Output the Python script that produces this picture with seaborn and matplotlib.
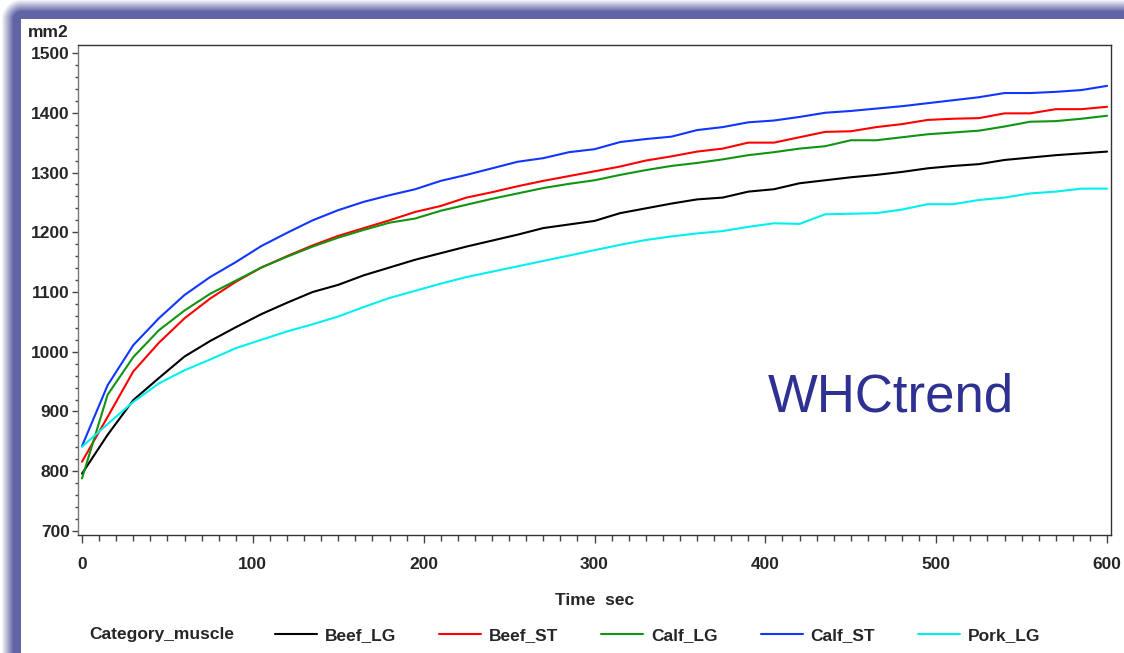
import numpy as np
import pandas as pd
import matplotlib
matplotlib.use('Agg')
import matplotlib.pyplot as plt
import matplotlib.ticker as mticker
from matplotlib.lines import Line2D
import seaborn as sns

# ── Data (every 15 sec) ─────────────────────────────────────
time_sec = list(range(0, 601, 15))

beef_lg = [796, 861, 919, 956, 992, 1018, 1041, 1063, 1082, 1100, 1112, 1128, 1141, 1154,
           1165, 1176, 1186, 1196, 1207, 1213, 1219, 1232, 1240, 1248, 1255, 1258, 1268,
           1272, 1282, 1287, 1292, 1296, 1301, 1307, 1311, 1314, 1321, 1325, 1329, 1332, 1335]
beef_st = [816, 891, 967, 1015, 1056, 1089, 1117, 1141, 1160, 1178, 1194, 1207, 1220, 1234,
           1244, 1258, 1267, 1277, 1286, 1294, 1302, 1310, 1320, 1327, 1335, 1340, 1350,
           1350, 1359, 1368, 1369, 1376, 1381, 1388, 1390, 1391, 1399, 1399, 1406, 1406, 1410]
calf_lg = [788, 928, 991, 1036, 1069, 1097, 1119, 1141, 1159, 1176, 1191, 1204, 1216, 1223,
           1236, 1246, 1256, 1265, 1274, 1281, 1287, 1296, 1304, 1311, 1316, 1322, 1329,
           1334, 1340, 1344, 1354, 1354, 1359, 1364, 1367, 1370, 1377, 1385, 1386, 1390, 1395]
calf_st = [842, 944, 1011, 1056, 1095, 1125, 1150, 1177, 1199, 1220, 1237, 1251, 1262, 1272,
           1286, 1296, 1307, 1318, 1324, 1334, 1339, 1351, 1356, 1360, 1371, 1376, 1384,
           1387, 1393, 1400, 1403, 1407, 1411, 1416, 1421, 1426, 1433, 1433, 1435, 1438, 1445]
pork_lg = [841, 879, 916, 947, 969, 987, 1006, 1020, 1034, 1046, 1059, 1075, 1090, 1102,
           1114, 1125, 1134, 1143, 1152, 1161, 1170, 1179, 1187, 1193, 1198, 1202, 1209,
           1215, 1214, 1230, 1231, 1232, 1238, 1247, 1247, 1254, 1258, 1265, 1268, 1273, 1273]

categories = ['Beef_LG', 'Beef_ST', 'Calf_LG', 'Calf_ST', 'Pork_LG']
colors = ['#000000', '#ff0000', '#119411', '#1036ff', '#00f0f0']

df = pd.DataFrame({
    'Time sec': time_sec * 5,
    'mm2': beef_lg + beef_st + calf_lg + calf_st + pork_lg,
    'Category_muscle': np.repeat(categories, len(time_sec)),
})

# ── Style ────────────────────────────────────────────────────
sns.set_style('white')
plt.rcParams['font.family'] = ['Liberation Sans', 'DejaVu Sans']
FS = 12.5

fig = plt.figure(figsize=(11.24, 6.53), dpi=100)

# purple frame with soft outer edge (top and left)
H, W = 653, 1124
yy, xx = np.mgrid[0:H, 0:W]
x0, y0 = 21, 19
dx = np.clip(x0 - xx, 0, None)
dy = np.clip(y0 - yy, 0, None)
d = np.where((dx > 0) & (dy > 0), np.hypot(dx, dy), np.maximum(dx, dy))
k = np.clip((20 - d) / 12, 0, 1)
k[(xx >= x0) & (yy >= y0)] = 0
purple = np.array([96, 100, 164]) / 255
img = np.ones((H, W, 3)) * (1 - k[..., None]) + purple * k[..., None]
bg = fig.add_axes([0, 0, 1, 1], zorder=-10)
bg.imshow(img, aspect='auto', interpolation='bilinear')
bg.axis('off')

ax = fig.add_axes([78 / 1124, 1 - 535 / 653, 1033 / 1124, 490 / 653])
ax.set_facecolor('white')

sns.lineplot(data=df, x='Time sec', y='mm2', hue='Category_muscle',
             palette=dict(zip(categories, colors)), linewidth=1.5, ax=ax, legend=False)

ax.set_xlim(-2.34, 602.3)
ax.set_ylim(693.3, 1513.4)
ax.xaxis.set_major_locator(mticker.MultipleLocator(100))
ax.xaxis.set_minor_locator(mticker.MultipleLocator(10))
ax.yaxis.set_major_locator(mticker.MultipleLocator(100))
ax.yaxis.set_minor_locator(mticker.MultipleLocator(20))
ax.tick_params(left=True, bottom=True, which='both', direction='out', width=1, color='#444444')
ax.tick_params(axis='y', which='major', length=4, pad=2, labelsize=FS)
ax.tick_params(axis='y', which='minor', length=2.5)
ax.tick_params(axis='x', which='major', length=6, pad=10, labelsize=FS)
ax.tick_params(axis='x', which='minor', length=4)
for lab in ax.get_xticklabels() + ax.get_yticklabels():
    lab.set_fontweight('bold')

for side in ['left', 'right', 'top', 'bottom']:
    ax.spines[side].set_color('#333333')
    ax.spines[side].set_linewidth(1)
ax.spines['left'].set_color('#777777')

ax.set_xlabel('Time  sec', fontsize=FS, fontweight='bold', labelpad=15)
ax.set_ylabel('')
fig.text(28 / 1124, 1 - 37 / 653, 'mm2', fontsize=FS, fontweight='bold', va='baseline')

ax.text(0.668, 0.2816, 'WHCtrend', transform=ax.transAxes, fontsize=38,
        color='#2e3192', va='center', ha='left')

# ── Legend along the bottom ─────────────────────────────────
fig.text(89 / 1124, 1 - 635 / 653, 'Category_muscle', fontsize=FS, fontweight='bold', va='center')
handles = [Line2D([], [], color=c, linewidth=1.5) for c in colors]
fig.legend(handles, categories, loc='center left', ncol=5, frameon=False,
           bbox_to_anchor=(268 / 1124, 1 - 635 / 653),
           prop={'size': FS, 'weight': 'bold'},
           handlelength=2.4, handletextpad=0.45, columnspacing=2.5, borderaxespad=0)

plt.savefig('out.png', dpi=100)
